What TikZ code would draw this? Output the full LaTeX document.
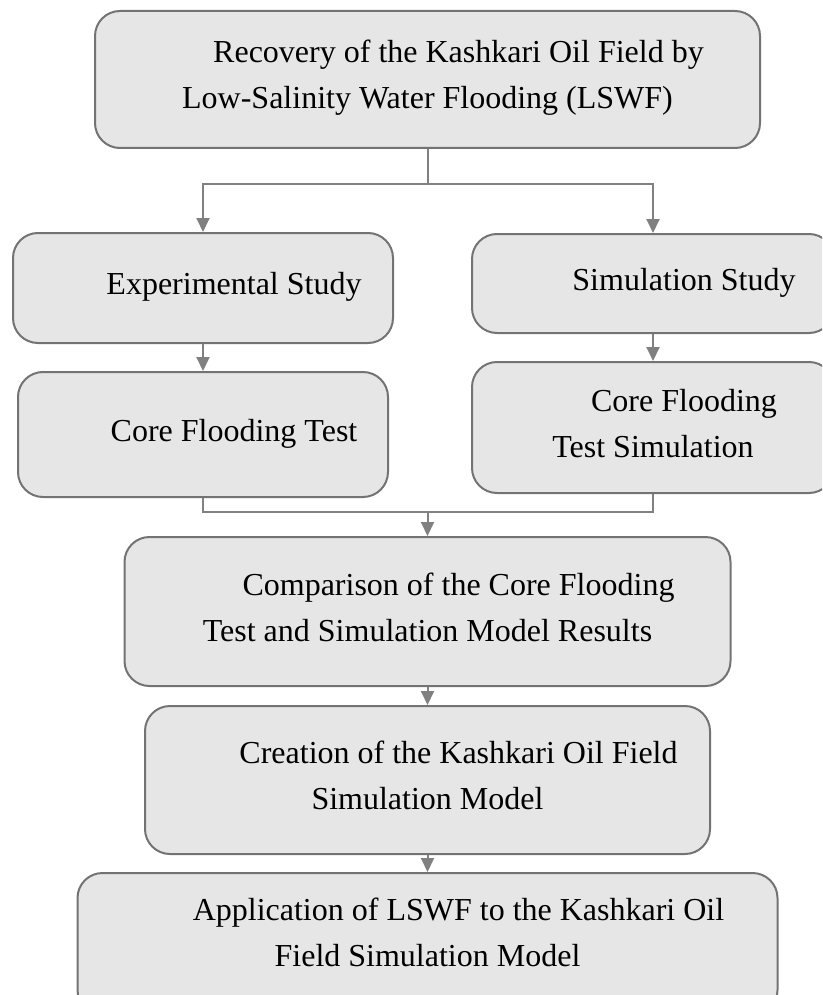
\documentclass[tikz,border=0pt]{standalone}
\usepackage{fontspec}
\setmainfont{Liberation Serif}
\usetikzlibrary{arrows.meta}

\definecolor{cajagris}{HTML}{E6E6E6}
\definecolor{bordegris}{HTML}{737373}
\definecolor{flechagris}{HTML}{808080}

% sangria de la primera linea y puntal de altura fija
\newcommand{\sangria}{\hspace*{62pt}}
\newcommand{\lin}{\rule[-11pt]{0pt}{35pt}}

\tikzset{
  caja/.style={draw=bordegris, fill=cajagris, line width=2pt, rounded corners=25pt,
    align=center, inner sep=0pt, font=\fontsize{32}{46}\selectfont},
  linea/.style={draw=flechagris, line width=2pt},
  flecha/.style={linea, -{Triangle[length=14pt,width=13pt]}}
}

\begin{document}
\begin{tikzpicture}[x=1pt,y=-1pt]
  \path[use as bounding box, clip] (0,0) rectangle (822,995);

  % Caja principal
  \node[caja, minimum width=665pt, minimum height=137pt] (recovery) at (427.5,79.5)
    {\sangria\lin Recovery of the Kashkari Oil Field by\\ \lin Low-Salinity Water Flooding (LSWF)};

  % Dos ramas: experimental y simulacion
  \node[caja, minimum width=380pt, minimum height=110pt] (experimental) at (203,288)
    {\sangria\lin Experimental Study};
  \node[caja, minimum width=362pt, minimum height=99pt] (simulation) at (653,283.5)
    {\sangria\lin Simulation Study};
  \node[caja, minimum width=370pt, minimum height=125pt] (coretest) at (203,434.5)
    {\sangria\lin Core Flooding Test};
  \node[caja, minimum width=362pt, minimum height=131pt] (coresim) at (653,427.5)
    {\sangria\lin Core Flooding\\ \lin Test Simulation};

  % Pasos finales
  \node[caja, minimum width=606pt, minimum height=149pt] (comparison) at (427.5,611.5)
    {\sangria\lin Comparison of the Core Flooding\\ \lin Test and Simulation Model Results};
  \node[caja, minimum width=565pt, minimum height=148pt] (creation) at (427.5,780)
    {\sangria\lin Creation of the Kashkari Oil Field\\ \lin Simulation Model};
  % la ultima caja sigue por debajo del borde
  \node[caja, minimum width=700pt, minimum height=142pt] (application) at (427.5,944)
    {\sangria\lin Application of LSWF to the Kashkari Oil\\ \rule[-26pt]{0pt}{50pt}Field Simulation Model};

  % Bifurcacion superior
  \coordinate (split) at (427.5,184);
  \draw[linea] (recovery.south) -- (split);
  \draw[flecha] (split) -| (experimental.north);
  \draw[flecha] (split) -| (simulation.north);

  \draw[flecha] (experimental.south) -- (coretest.north);
  \draw[flecha] (simulation.south) -- (coresim.north);

  % Union inferior
  \coordinate (join) at (427.5,512);
  \draw[linea] (coretest.south) |- (join);
  \draw[linea] (coresim.south) |- (join);
  \draw[flecha] (join) -- (comparison.north);

  \draw[flecha] (comparison.south) -- (creation.north);
  \draw[flecha] (creation.south) -- (application.north);

\end{tikzpicture}
\end{document}
